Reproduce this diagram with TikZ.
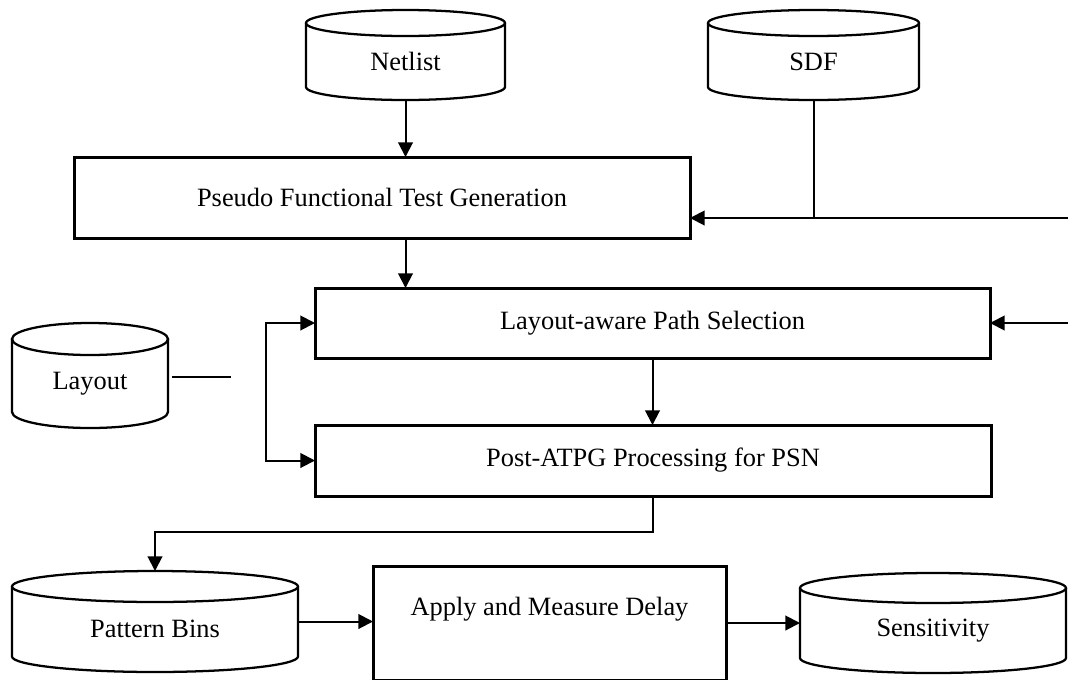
\documentclass[tikz,border=0pt]{standalone}
\usepackage{fontspec}
\setmainfont{Liberation Serif}
\usetikzlibrary{arrows.meta,calc}

\tikzset{
  lbl/.style={font=\fontsize{19.8}{24}\selectfont},
  box/.style={lbl, draw, line width=2.25pt, inner sep=0pt, outer sep=0pt},
  drumnode/.style={inner sep=0pt, outer sep=0pt},
  drumline/.style={line width=1.7pt},
  drumtext/.style={lbl, inner sep=0pt},
  link/.style={line width=1.5pt},
  tip/.tip={Triangle[length=11pt,width=11pt]},
  arr/.style={link, -tip},
  biarr/.style={link, tip-tip},
}

% database drum: name, left, right, top, bottom, ellipse half-height, text
\newcommand\drum[7]{%
  \node[drumnode, minimum width={(#3-#2)*0.75pt}, minimum height={(#5-#4)*0.75pt}]
    (#1) at ({(#2+#3)/2},{(#4+#5)/2}) {};
  \draw[drumline] ({(#2+#3)/2},{#4+#6}) ellipse [x radius={(#3-#2)/2*0.75pt}, y radius={#6*0.75pt}];
  \draw[drumline] (#2,{#4+#6}) -- (#2,{#5-#6})
    arc[start angle=180, end angle=360, x radius={(#3-#2)/2*0.75pt}, y radius={#6*0.75pt}]
    -- (#3,{#4+#6});
  \node[drumtext] (#1-text) at ({(#2+#3)/2},{(#4+#5+#6)/2}) {#7};
}

\begin{document}
\begin{tikzpicture}[x=0.75pt, y=-0.75pt]
  \useasboundingbox (0,0) rectangle (1068,679);

  % data sources and sinks
  \drum{netlist}{306}{505}{10}{100}{13}{Netlist}
  \drum{sdf}{708}{919}{10}{100}{13}{SDF}
  \drum{layout}{12}{168}{323}{428}{16}{Layout}
  \drum{patbins}{12}{298}{571}{672}{15.5}{Pattern Bins}
  \drum{sens}{800}{1066}{573}{673}{15}{Sensitivity}

  % processing steps
  \node[box, minimum width={616*0.75pt}, minimum height={81*0.75pt}] (pftg) at (382,197.5)
    {Pseudo Functional Test Generation};
  \node[box, minimum width={675*0.75pt}, minimum height={70*0.75pt}] (lps) at (652.5,323)
    {Layout-aware Path Selection};
  \node[box, minimum width={676*0.75pt}, minimum height={71*0.75pt}] (post) at (653,460.5)
    {Post-ATPG Processing for PSN};
  \node[box, minimum width={353*0.75pt}, minimum height={114*0.75pt},
        label={[lbl, yshift=10pt]center:Apply and Measure Delay}] (apply) at (549.5,623) {};

  % free ends
  \coordinate (sdfin) at (1068,218);
  \coordinate (lpsin) at (1068,323);
  \coordinate (laystub) at (231,377);
  \coordinate (bx) at (266,392);

  % connectors
  \draw[arr] (netlist.south) -- (netlist.south |- pftg.north);
  \draw[link] (sdf.south) -- (sdf.south |- sdfin);
  \draw[arr] (sdfin) -- (pftg.east |- sdfin);
  \draw[arr] (netlist.south |- pftg.south) -- (netlist.south |- lps.north);
  \draw[arr] (lpsin) -- (lps.east);
  \draw[link, shorten <=3pt] (layout.east |- laystub) -- (laystub);
  \draw[biarr] (lps.west) -| (bx) |- (post.west);
  \draw[arr] (lps.south) -- (lps.south |- post.north);
  \draw[arr] (post.south) -- ++(0,36) -| (patbins.north);
  \draw[arr] (patbins.east) -- (apply.west |- patbins.east);
  \draw[arr] (apply.east) -- (sens.west |- apply.east);
\end{tikzpicture}
\end{document}
